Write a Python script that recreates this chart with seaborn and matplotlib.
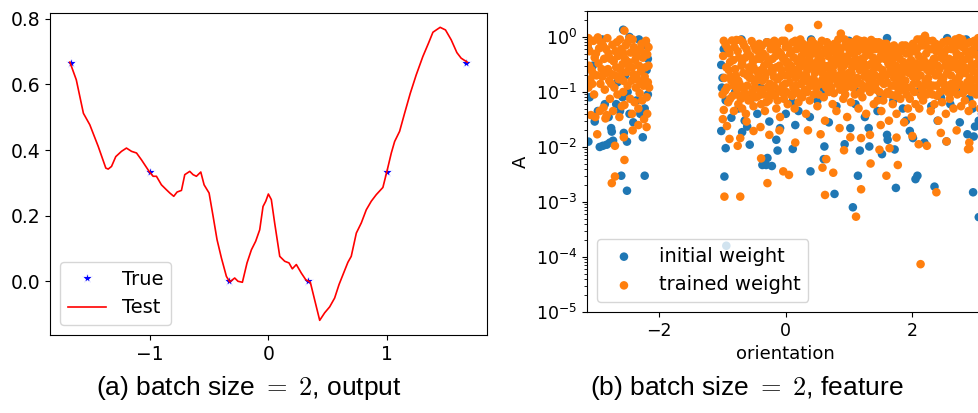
import matplotlib
matplotlib.use("Agg")
import matplotlib.pyplot as plt
import numpy as np
import pandas as pd
import seaborn as sns

# ---------------- data: panel (a) ----------------
true_x = [-5/3, -1.0, -1/3, 1/3, 1.0, 5/3]
true_y = [2/3, 1/3, 0.0, 0.0, 1/3, 2/3]

test_x = [-1.674, -1.62, -1.56, -1.506, -1.435, -1.371, -1.351, -1.323, -1.287, -1.239,
          -1.197, -1.154, -1.112, -1.070, -1.006, -0.972, -0.944, -0.902, -0.860, -0.831,
          -0.798, -0.770, -0.733, -0.705, -0.663, -0.635, -0.607, -0.570, -0.542, -0.500,
          -0.466, -0.433, -0.396, -0.354, -0.326, -0.284, -0.256, -0.219, -0.180, -0.143,
          -0.107, -0.073, -0.045, -0.022, 0.000, 0.025, 0.053, 0.096, 0.138, 0.174,
          0.202, 0.236, 0.278, 0.315, 0.354, 0.390, 0.433, 0.475, 0.517, 0.559,
          0.596, 0.629, 0.671, 0.699, 0.742, 0.784, 0.826, 0.868, 0.910, 0.966,
          1.000, 1.037, 1.065, 1.107, 1.149, 1.197, 1.247, 1.303, 1.351, 1.388,
          1.416, 1.449, 1.494, 1.542, 1.590, 1.626, 1.677]
test_y = [0.668, 0.614, 0.512, 0.477, 0.411, 0.345, 0.342, 0.350, 0.380, 0.396,
          0.406, 0.396, 0.391, 0.370, 0.335, 0.320, 0.320, 0.294, 0.279, 0.269,
          0.259, 0.272, 0.277, 0.325, 0.335, 0.325, 0.320, 0.333, 0.294, 0.269,
          0.198, 0.127, 0.071, 0.015, -0.002, 0.010, 0.000, -0.003, 0.056, 0.096,
          0.122, 0.157, 0.228, 0.244, 0.266, 0.249, 0.178, 0.076, 0.061, 0.056,
          0.038, 0.051, 0.025, 0.005, -0.003, -0.056, -0.119, -0.096, -0.078, -0.051,
          -0.010, 0.020, 0.058, 0.076, 0.147, 0.178, 0.218, 0.244, 0.264, 0.286,
          0.335, 0.391, 0.426, 0.457, 0.512, 0.573, 0.629, 0.685, 0.726, 0.759,
          0.766, 0.774, 0.766, 0.736, 0.697, 0.680, 0.668]

left_xticks = [-1, 0, 1]
left_yticks = [0.0, 0.2, 0.4, 0.6, 0.8]

# ---------------- data: panel (b) ----------------
initial_points = [
    # left cluster
    (-3.12, 0.0125), (-2.94, 0.010), (-2.89, 0.0105), (-2.83, 0.011), (-2.78, 0.012),
    (-2.73, 0.013), (-2.76, 0.022), (-2.75, 0.019), (-2.60, 0.003), (-2.51, 0.0016),
    (-2.23, 0.003), (-2.26, 0.015), (-2.56, 0.018), (-2.51, 0.0125), (-3.02, 0.029),
    (-2.57, 1.35), (-3.05, 0.30), (-3.12, 0.60), (-2.90, 0.90), (-2.86, 0.060),
    (-2.80, 0.035), (-2.68, 0.060), (-2.62, 0.045), (-2.58, 0.080), (-2.50, 0.10),
    (-2.47, 0.040), (-2.41, 0.028), (-2.36, 0.070), (-2.30, 0.040), (-2.23, 0.050),
    (-2.18, 0.090), (-2.20, 0.70), (-2.32, 0.90), (-2.47, 1.00), (-3.10, 0.080),
    (-2.97, 0.045), (-2.66, 0.15), (-2.54, 0.20), (-2.20, 0.25), (-2.18, 0.40),
    # main cloud
    (-1.02, 0.31), (-1.00, 0.18), (-0.98, 0.60), (-0.95, 0.07), (-1.01, 0.12),
    (-0.97, 0.0029), (-0.95, 0.0095), (-1.02, 0.0195), (-0.86, 0.034), (-0.69, 0.0186),
    (-0.61, 0.0235), (-0.57, 0.011), (-0.37, 0.0047), (-0.31, 0.0047), (-0.29, 0.0063),
    (-0.22, 0.0045), (-0.13, 0.0086), (0.11, 0.0092), (-0.26, 0.029), (-0.09, 0.022),
    (-0.15, 0.0135), (0.39, 0.0036), (0.60, 0.006), (0.77, 0.0014), (1.06, 0.0008),
    (1.14, 0.003), (1.17, 0.0086), (1.32, 0.0102), (1.52, 0.0074), (1.72, 0.009),
    (1.74, 0.0018), (2.05, 0.0026), (2.08, 0.003), (2.35, 0.0019), (2.96, 0.0015),
    (3.05, 0.00053), (2.97, 0.0155), (1.96, 0.0195), (2.01, 0.0145), (2.19, 0.012),
    (2.54, 0.0126), (2.87, 0.017), (2.99, 0.0235), (1.31, 0.022), (1.60, 0.0166),
    (1.61, 0.0135), (1.02, 0.022), (0.93, 0.0112), (0.61, 0.0102), (0.38, 0.035),
    (0.20, 0.045), (0.00, 0.040), (-0.45, 0.040), (-0.75, 0.050), (-0.55, 0.075),
    (0.50, 0.070), (0.80, 0.055), (1.10, 0.060), (1.45, 0.045), (1.85, 0.050),
    (2.30, 0.055), (2.60, 0.060), (2.95, 0.050), (3.10, 0.040), (0.15, 0.025),
    (0.68, 0.028), (1.25, 0.035), (1.90, 0.030), (2.40, 0.030), (2.75, 0.028),
    (3.05, 0.030), (-0.80, 0.10), (-0.20, 0.09), (0.30, 0.10), (0.90, 0.12),
    (1.50, 0.09), (2.10, 0.10), (2.70, 0.12), (3.12, 0.35), (2.85, 0.90),
    (2.55, 0.95), (2.20, 0.90), (1.60, 0.95), (1.00, 0.85), (0.40, 0.90),
    (-0.30, 0.80), (-0.70, 0.90), (3.00, 0.60), (2.40, 0.70), (1.30, 0.12),
    (0.60, 0.11), (-0.40, 0.12), (2.90, 0.075), (2.45, 0.08), (1.70, 0.07),
    (1.15, 0.10), (0.10, 0.065), (-0.65, 0.030), (-0.94, 0.00016),
]

trained_points = [
    # left cluster
    (-3.12, 0.95), (-3.10, 0.55), (-3.11, 0.30), (-3.09, 0.17), (-3.12, 0.12), (-3.08, 0.038),
    (-3.04, 0.85), (-3.02, 0.42), (-3.05, 0.22), (-3.03, 0.09), (-3.01, 0.035),
    (-2.97, 0.98), (-2.95, 0.62), (-2.96, 0.33), (-2.93, 0.14), (-2.94, 0.045), (-2.98, 0.017),
    (-2.89, 0.70), (-2.87, 0.40), (-2.90, 0.19), (-2.86, 0.11), (-2.88, 0.052), (-2.85, 0.033),
    (-2.82, 0.95), (-2.80, 0.50), (-2.81, 0.26), (-2.79, 0.16), (-2.78, 0.075), (-2.83, 0.038),
    (-2.74, 0.72), (-2.72, 0.36), (-2.75, 0.21), (-2.71, 0.12), (-2.73, 0.045), (-2.70, 0.0105),
    (-2.67, 0.80), (-2.65, 0.45), (-2.68, 0.28), (-2.64, 0.17), (-2.66, 0.09), (-2.63, 0.035),
    (-2.60, 0.60), (-2.58, 0.32), (-2.61, 0.19), (-2.57, 0.10), (-2.59, 0.055), (-2.56, 0.015),
    (-2.55, 1.30), (-2.53, 0.70), (-2.54, 0.40), (-2.52, 0.23), (-2.50, 0.13), (-2.55, 0.058),
    (-2.55, 0.0058),
    (-2.47, 0.95), (-2.45, 0.52), (-2.48, 0.30), (-2.44, 0.16), (-2.46, 0.075), (-2.43, 0.040),
    (-2.40, 0.65), (-2.38, 0.38), (-2.41, 0.21), (-2.37, 0.12), (-2.39, 0.065), (-2.42, 0.020),
    (-2.34, 0.55), (-2.32, 0.30), (-2.35, 0.17), (-2.31, 0.095), (-2.33, 0.050), (-2.33, 0.025),
    (-2.28, 0.75), (-2.26, 0.42), (-2.29, 0.24), (-2.25, 0.13), (-2.27, 0.070), (-2.24, 0.032),
    (-2.21, 0.85), (-2.19, 0.48), (-2.22, 0.28), (-2.18, 0.15), (-2.20, 0.080), (-2.19, 0.040),
    (-2.20, 0.023), (-2.75, 0.0022), (-2.70, 0.0029),
    (-3.13, 0.70), (-3.07, 0.25), (-3.06, 0.14), (-3.00, 0.50), (-2.99, 0.20),
    (-2.92, 0.80), (-2.91, 0.26), (-2.84, 0.60), (-2.84, 0.22), (-2.77, 0.40),
    (-2.76, 0.14), (-2.69, 0.55), (-2.70, 0.20), (-2.62, 0.90), (-2.62, 0.26),
    (-2.56, 0.50), (-2.57, 0.16), (-2.50, 0.80), (-2.49, 0.35), (-2.43, 0.28),
    (-2.42, 0.90), (-2.36, 0.45), (-2.36, 0.20), (-2.30, 0.60), (-2.30, 0.15),
    (-2.23, 0.50), (-2.23, 0.19), (-2.17, 0.65), (-2.17, 0.30), (-2.16, 0.12),
    # main cloud, band
    (-0.98, 0.85), (-0.99, 0.45), (-0.97, 0.18), (-1.00, 0.09), (-0.98, 0.047),
    (-0.92, 0.62), (-0.90, 0.25), (-0.93, 0.12), (-0.91, 0.065), (-0.88, 0.35),
    (-0.85, 0.86), (-0.83, 0.38), (-0.86, 0.16), (-0.84, 0.085), (-0.82, 0.045),
    (-0.78, 0.88), (-0.76, 0.55), (-0.79, 0.20), (-0.77, 0.11), (-0.75, 0.06),
    (-0.72, 0.88), (-0.70, 0.30), (-0.73, 0.14), (-0.71, 0.075), (-0.69, 0.05),
    (-0.66, 0.70), (-0.64, 0.42), (-0.67, 0.22), (-0.65, 0.095), (-0.63, 0.04),
    (-0.60, 0.50), (-0.58, 0.28), (-0.61, 0.13), (-0.59, 0.07), (-0.57, 0.18),
    (-0.54, 0.84), (-0.52, 0.35), (-0.55, 0.18), (-0.53, 0.10), (-0.51, 0.055),
    (-0.48, 0.60), (-0.46, 0.24), (-0.49, 0.15), (-0.47, 0.08), (-0.45, 0.40),
    (-0.42, 0.75), (-0.40, 0.40), (-0.43, 0.20), (-0.41, 0.11), (-0.39, 0.06),
    (-0.36, 0.50), (-0.34, 0.30), (-0.37, 0.16), (-0.35, 0.09), (-0.33, 0.045),
    (-0.30, 0.80), (-0.28, 0.35), (-0.31, 0.22), (-0.29, 0.12), (-0.27, 0.07),
    (-0.24, 0.60), (-0.22, 0.27), (-0.25, 0.14), (-0.23, 0.10), (-0.21, 0.40),
    (-0.18, 0.85), (-0.16, 0.45), (-0.19, 0.19), (-0.17, 0.085), (-0.15, 0.05),
    (-0.12, 0.55), (-0.10, 0.30), (-0.13, 0.17), (-0.11, 0.11), (-0.09, 0.035),
    (-0.06, 0.85), (-0.04, 0.40), (-0.07, 0.25), (-0.05, 0.13), (-0.03, 0.075),
    (0.00, 0.65), (0.02, 0.33), (-0.01, 0.20), (0.01, 0.10), (0.03, 0.06),
    (0.05, 1.45), (0.07, 0.50), (0.04, 0.27), (0.06, 0.15), (0.08, 0.09),
    (0.11, 0.80), (0.13, 0.42), (0.10, 0.22), (0.12, 0.12), (0.14, 0.05),
    (0.17, 0.60), (0.19, 0.35), (0.16, 0.18), (0.18, 0.10), (0.20, 0.065),
    (0.23, 0.90), (0.25, 0.45), (0.22, 0.28), (0.24, 0.14), (0.26, 0.08),
    (0.29, 0.55), (0.31, 0.30), (0.28, 0.20), (0.30, 0.11), (0.32, 0.04),
    (0.35, 0.70), (0.37, 0.40), (0.34, 0.25), (0.36, 0.15), (0.38, 0.07),
    (0.41, 0.85), (0.43, 0.50), (0.40, 0.30), (0.42, 0.17), (0.44, 0.09),
    (0.47, 0.60), (0.49, 0.35), (0.46, 0.22), (0.48, 0.12), (0.50, 0.055),
    (0.51, 1.65), (0.53, 0.70), (0.52, 0.42), (0.54, 0.25), (0.55, 0.14),
    (0.59, 0.50), (0.61, 0.30), (0.58, 0.17), (0.60, 0.08), (0.62, 0.03),
    (0.65, 0.80), (0.67, 0.45), (0.64, 0.28), (0.66, 0.15), (0.68, 0.10),
    (0.71, 0.60), (0.73, 0.38), (0.70, 0.22), (0.72, 0.12), (0.74, 0.06),
    (0.77, 0.75), (0.79, 0.50), (0.76, 0.30), (0.78, 0.18), (0.80, 0.045),
    (0.83, 0.90), (0.85, 0.55), (0.82, 0.33), (0.84, 0.20), (0.86, 0.11),
    (0.87, 1.15), (0.89, 0.45), (0.88, 0.26), (0.90, 0.15), (0.91, 0.075),
    (0.94, 0.70), (0.96, 0.40), (0.93, 0.20), (0.95, 0.12), (0.97, 0.035),
    (1.00, 0.60), (1.02, 0.35), (0.99, 0.22), (1.01, 0.13), (1.03, 0.065),
    (1.06, 0.80), (1.08, 0.50), (1.05, 0.28), (1.07, 0.16), (1.09, 0.09),
    (1.12, 0.90), (1.14, 0.55), (1.11, 0.30), (1.13, 0.18), (1.15, 0.05),
    (1.18, 0.65), (1.20, 0.40), (1.17, 0.25), (1.19, 0.14), (1.21, 0.08),
    (1.24, 0.85), (1.26, 0.45), (1.23, 0.27), (1.25, 0.12), (1.27, 0.04),
    (1.30, 0.75), (1.32, 0.50), (1.29, 0.30), (1.31, 0.17), (1.33, 0.10),
    (1.36, 0.70), (1.38, 0.42), (1.35, 0.22), (1.37, 0.13), (1.39, 0.06),
    (1.42, 0.80), (1.44, 0.35), (1.41, 0.20), (1.43, 0.11), (1.45, 0.07),
    (1.48, 0.60), (1.50, 0.45), (1.47, 0.28), (1.49, 0.16), (1.51, 0.045),
    (1.54, 0.75), (1.56, 0.40), (1.53, 0.25), (1.55, 0.14), (1.57, 0.09),
    (1.60, 0.55), (1.62, 0.33), (1.59, 0.20), (1.61, 0.10), (1.63, 0.03),
    (1.66, 0.65), (1.68, 0.38), (1.65, 0.23), (1.67, 0.13), (1.69, 0.06),
    (1.72, 0.50), (1.74, 0.30), (1.71, 0.18), (1.73, 0.085), (1.75, 0.04),
    (1.78, 0.60), (1.80, 0.40), (1.77, 0.25), (1.79, 0.14), (1.81, 0.075),
    (1.84, 0.70), (1.86, 0.35), (1.83, 0.20), (1.85, 0.11), (1.87, 0.028),
    (1.90, 0.50), (1.92, 0.30), (1.89, 0.16), (1.91, 0.09), (1.93, 0.05),
    (1.96, 0.65), (1.98, 0.38), (1.95, 0.22), (1.97, 0.12), (1.99, 0.035),
    (2.02, 0.55), (2.04, 0.32), (2.01, 0.19), (2.03, 0.10), (2.05, 0.06),
    (2.08, 0.90), (2.10, 0.45), (2.07, 0.25), (2.09, 0.14), (2.11, 0.05),
    (2.14, 0.70), (2.16, 0.35), (2.13, 0.20), (2.15, 0.11), (2.17, 0.07),
    (2.20, 1.05), (2.22, 0.50), (2.19, 0.28), (2.21, 0.16), (2.23, 0.09),
    (2.26, 0.60), (2.28, 0.33), (2.25, 0.18), (2.27, 0.10), (2.29, 0.045),
    (2.32, 0.85), (2.34, 0.40), (2.31, 0.24), (2.33, 0.13), (2.35, 0.06),
    (2.38, 0.55), (2.40, 0.30), (2.37, 0.20), (2.39, 0.085), (2.41, 0.03),
    (2.44, 0.70), (2.46, 0.45), (2.43, 0.26), (2.45, 0.15), (2.47, 0.065),
    (2.50, 0.50), (2.52, 0.30), (2.49, 0.18), (2.51, 0.11), (2.53, 0.04),
    (2.56, 0.85), (2.58, 0.40), (2.55, 0.22), (2.57, 0.13), (2.59, 0.075),
    (2.62, 0.60), (2.64, 0.35), (2.61, 0.20), (2.63, 0.10), (2.65, 0.05),
    (2.68, 0.90), (2.70, 0.50), (2.67, 0.28), (2.69, 0.16), (2.71, 0.09),
    (2.74, 0.95), (2.76, 0.45), (2.73, 0.25), (2.75, 0.14), (2.77, 0.055),
    (2.80, 0.65), (2.82, 0.38), (2.79, 0.22), (2.81, 0.12), (2.83, 0.07),
    (2.86, 0.75), (2.88, 0.42), (2.85, 0.27), (2.87, 0.15), (2.89, 0.045),
    (2.92, 0.55), (2.94, 0.32), (2.91, 0.18), (2.93, 0.10), (2.95, 0.06),
    (2.98, 0.85), (3.00, 0.48), (2.97, 0.30), (2.99, 0.17), (3.01, 0.09),
    (3.04, 0.95), (3.06, 0.40), (3.03, 0.22), (3.05, 0.12), (3.07, 0.05),
    (3.10, 0.60), (3.12, 0.35), (3.09, 0.20), (3.11, 0.11), (3.13, 0.07),
    # main cloud, band (second layer)
    (-0.95, 0.72), (-0.94, 0.28), (-0.96, 0.105), (-0.89, 0.50), (-0.87, 0.19),
    (-0.88, 0.075), (-0.81, 0.65), (-0.80, 0.26), (-0.82, 0.13), (-0.74, 0.42),
    (-0.75, 0.16), (-0.73, 0.085), (-0.68, 0.80), (-0.69, 0.33), (-0.67, 0.12),
    (-0.62, 0.60), (-0.61, 0.20), (-0.63, 0.09), (-0.56, 0.45), (-0.57, 0.24),
    (-0.55, 0.075), (-0.50, 0.70), (-0.51, 0.28), (-0.49, 0.12), (-0.44, 0.55),
    (-0.45, 0.17), (-0.43, 0.085), (-0.38, 0.68), (-0.39, 0.25), (-0.37, 0.11),
    (-0.32, 0.45), (-0.33, 0.18), (-0.31, 0.065), (-0.26, 0.78), (-0.27, 0.35),
    (-0.25, 0.085), (-0.20, 0.60), (-0.21, 0.23), (-0.19, 0.13), (-0.14, 0.70),
    (-0.15, 0.28), (-0.13, 0.07), (-0.08, 0.50), (-0.09, 0.19), (-0.07, 0.10),
    (-0.02, 0.85), (-0.03, 0.42), (-0.01, 0.14), (0.04, 0.70), (0.03, 0.35),
    (0.05, 0.20), (0.09, 0.55), (0.08, 0.30), (0.10, 0.085), (0.15, 0.85),
    (0.14, 0.25), (0.16, 0.13), (0.21, 0.65), (0.20, 0.22), (0.22, 0.09),
    (0.27, 0.75), (0.26, 0.38), (0.28, 0.16), (0.33, 0.50), (0.32, 0.20),
    (0.34, 0.10), (0.39, 0.62), (0.38, 0.35), (0.40, 0.13), (0.45, 0.75),
    (0.44, 0.28), (0.46, 0.16), (0.51, 0.55), (0.50, 0.33), (0.52, 0.09),
    (0.57, 0.85), (0.56, 0.38), (0.58, 0.22), (0.63, 0.60), (0.62, 0.20),
    (0.64, 0.12), (0.69, 0.70), (0.68, 0.30), (0.70, 0.16), (0.75, 0.55),
    (0.74, 0.24), (0.76, 0.095), (0.81, 0.70), (0.80, 0.40), (0.82, 0.14),
    (0.87, 0.60), (0.86, 0.35), (0.88, 0.19), (0.93, 0.90), (0.92, 0.30),
    (0.94, 0.09), (0.99, 0.80), (0.98, 0.45), (1.00, 0.17), (1.05, 0.60),
    (1.04, 0.22), (1.06, 0.12), (1.11, 0.70), (1.10, 0.40), (1.12, 0.14),
    (1.17, 0.85), (1.16, 0.33), (1.18, 0.10), (1.23, 0.60), (1.22, 0.35),
    (1.24, 0.19), (1.29, 0.55), (1.28, 0.22), (1.30, 0.13), (1.35, 0.88),
    (1.34, 0.32), (1.36, 0.17), (1.41, 0.60), (1.40, 0.27), (1.42, 0.14),
    (1.47, 0.80), (1.46, 0.38), (1.48, 0.10), (1.53, 0.60), (1.52, 0.20),
    (1.54, 0.07), (1.59, 0.75), (1.58, 0.42), (1.60, 0.15), (1.65, 0.50),
    (1.64, 0.30), (1.66, 0.09), (1.71, 0.70), (1.70, 0.24), (1.72, 0.13),
    (1.77, 0.45), (1.76, 0.18), (1.78, 0.10), (1.83, 0.55), (1.82, 0.28),
    (1.84, 0.15), (1.89, 0.70), (1.88, 0.24), (1.90, 0.12), (1.95, 0.50),
    (1.94, 0.30), (1.96, 0.075), (2.01, 0.75), (2.00, 0.25), (2.02, 0.14),
    (2.07, 0.60), (2.06, 0.33), (2.08, 0.19), (2.13, 0.90), (2.12, 0.28),
    (2.14, 0.085), (2.19, 0.70), (2.18, 0.38), (2.20, 0.13), (2.25, 0.85),
    (2.24, 0.25), (2.26, 0.14), (2.31, 0.60), (2.30, 0.30), (2.32, 0.09),
    (2.37, 0.75), (2.36, 0.40), (2.38, 0.13), (2.43, 0.55), (2.42, 0.20),
    (2.44, 0.10), (2.49, 0.80), (2.48, 0.40), (2.50, 0.14), (2.55, 0.60),
    (2.54, 0.30), (2.56, 0.10), (2.61, 0.80), (2.60, 0.28), (2.62, 0.14),
    (2.67, 0.65), (2.66, 0.38), (2.68, 0.12), (2.73, 0.70), (2.72, 0.33),
    (2.74, 0.19), (2.79, 0.90), (2.78, 0.30), (2.80, 0.095), (2.85, 0.55),
    (2.84, 0.22), (2.86, 0.11), (2.91, 0.80), (2.90, 0.40), (2.92, 0.14),
    (2.97, 0.60), (2.96, 0.24), (2.98, 0.12), (3.03, 0.70), (3.02, 0.33),
    (3.04, 0.16), (3.09, 0.85), (3.08, 0.28), (3.10, 0.14),
    # main cloud, lower points
    (-0.97, 0.00125), (-0.72, 0.00125), (-0.76, 0.0105), (-0.89, 0.014), (-0.72, 0.0145),
    (-0.51, 0.0195), (-0.62, 0.029), (-0.995, 0.032), (-0.93, 0.024), (-0.29, 0.0022),
    (-0.04, 0.0036), (0.05, 0.0031), (0.58, 0.0042), (0.75, 0.0034), (0.62, 0.00134),
    (-0.39, 0.0062), (-0.26, 0.0166), (-0.40, 0.023), (0.55, 0.017), (0.64, 0.006),
    (0.92, 0.0087), (1.02, 0.015), (1.19, 0.0017), (1.59, 0.003), (1.34, 0.005),
    (1.77, 0.0047), (1.48, 0.0089), (1.64, 0.0095), (1.19, 0.0145), (1.33, 0.0166),
    (2.10, 0.0112), (2.23, 0.0105), (2.54, 0.0126), (2.90, 0.0093), (2.90, 0.012),
    (1.75, 0.0148), (2.00, 0.0158), (2.38, 0.0015), (2.13, 0.000074), (1.11, 0.00054),
    (2.88, 0.0091), (0.15, 0.012), (0.35, 0.020), (0.85, 0.022), (1.50, 0.025),
    (2.70, 0.020), (2.45, 0.018), (-0.10, 0.020),
]

right_xticks = [-2, 0, 2]

# ---------------- figure ----------------
plt.rcParams["font.family"] = ["DejaVu Sans"]
fig = plt.figure(figsize=(9.79, 4.13), dpi=100)

# panel (a)
ax1 = fig.add_axes([0.0511, 0.1889, 0.4464, 0.7804])
sns.lineplot(x=true_x, y=true_y, ax=ax1, color="blue", marker="*", linestyle="",
             markersize=8, markeredgewidth=0.6, label="True", sort=False)
sns.lineplot(x=test_x, y=test_y, ax=ax1, color="red", linewidth=1.2,
             label="Test", sort=False)
ax1.set_xticks(left_xticks)
ax1.set_yticks(left_yticks)
ax1.set_xticklabels([f"{t}".replace("-", "\u2212") for t in left_xticks])
ax1.set_yticklabels([f"{t:.1f}" for t in left_yticks])
ax1.tick_params(labelsize=13.5)
ax1.legend(loc="lower left", fontsize=14)
ax1.set_xlabel("")
ax1.set_ylabel("")

# panel (b)
ax2 = fig.add_axes([0.5996, 0.2446, 0.4061, 0.7295])
df_init = pd.DataFrame(initial_points, columns=["orientation", "A"])
df_train = pd.DataFrame(trained_points, columns=["orientation", "A"])
sns.scatterplot(data=df_init, x="orientation", y="A", ax=ax2, color="#1f77b4",
                s=38, linewidth=0, edgecolor="none", label="initial weight")
sns.scatterplot(data=df_train, x="orientation", y="A", ax=ax2, color="#ff7f0e",
                s=38, linewidth=0, edgecolor="none", label="trained weight")
ax2.set_yscale("log")
ax2.set_ylim(1e-5, 3.0)
ax2.set_xlim(-np.pi, np.pi)
ax2.set_xticks(right_xticks)
ax2.set_xticklabels([f"{t}".replace("-", "\u2212") for t in right_xticks])
ax2.tick_params(labelsize=12.5)
ax2.set_xlabel("orientation", fontsize=13)
ax2.set_ylabel("A", fontsize=13)
ax2.legend(loc="lower left", fontsize=14)

# captions
fig.text(248.5 / 979, 1 - 388 / 413, r"(a) batch size $=$ $2$, output",
         ha="center", va="center", fontsize=19, family="Liberation Sans",
         math_fontfamily="cm")
fig.text(746.5 / 979, 1 - 388 / 413, r"(b) batch size $=$ $2$, feature",
         ha="center", va="center", fontsize=19, family="Liberation Sans",
         math_fontfamily="cm")

fig.savefig("out.png", dpi=100)
